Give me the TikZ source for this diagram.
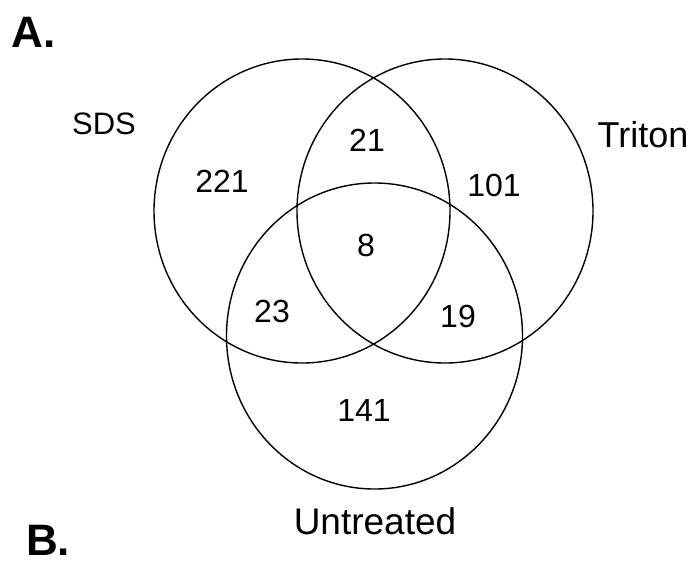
\documentclass[tikz,border=0pt]{standalone}
\usepackage{fontspec}
\setmainfont{Liberation Sans}
\begin{document}
\begin{tikzpicture}[x=1pt,y=-1pt,
  ring/.style={draw=black,line width=1.4pt},
  num/.style={inner sep=0pt,font=\fontsize{32}{36}\selectfont},
  setlabel/.style={inner sep=0pt},
  panel/.style={inner sep=0pt,font=\bfseries\fontsize{44}{48}\selectfont}]
\useasboundingbox (0,0) rectangle (700,563);
\draw[ring] (302,211) ellipse [x radius=148pt, y radius=152pt];
\draw[ring] (445,211) ellipse [x radius=148pt, y radius=152pt];
\draw[ring] (374.5,336) ellipse [x radius=148pt, y radius=153pt];
\node[panel] (A) at (34,32) {A.};
\node[panel] (B) at (48,540) {B.};
\node[setlabel,font=\fontsize{31}{34}\selectfont] (sds) at (104,124) {SDS};
\node[setlabel,font=\fontsize{36}{40}\selectfont] (triton) at (643,135) {Triton};
\node[setlabel,font=\fontsize{37}{40}\selectfont] (untr) at (375,521) {Untreated};
\node[num] (n221) at (222,181) {221};
\node[num] (n21) at (367,140) {21};
\node[num] (n101) at (494,185) {101};
\node[num] (n8) at (366,245) {8};
\node[num] (n23) at (272,311) {23};
\node[num] (n19) at (458,316) {19};
\node[num] (n141) at (364,410) {141};
\end{tikzpicture}
\end{document}
